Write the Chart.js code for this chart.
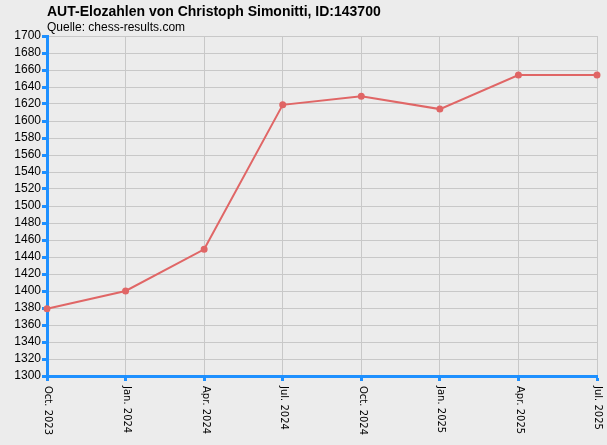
<!DOCTYPE html>
<html>
<head>
<meta charset="utf-8">
<script src="https://cdn.jsdelivr.net/npm/chart.js@4"></script>
<style>
  body { margin: 0; background: #ececec; }
  #wrap { width: 607px; height: 445px; }
</style>
</head>
<body>
<div id="wrap"><canvas id="eloChart"></canvas></div>
<script>
const labels = ['Oct. 2023', 'Jan. 2024', 'Apr. 2024', 'Jul. 2024', 'Oct. 2024', 'Jan. 2025', 'Apr. 2025', 'Jul. 2025'];
const elo = [1379, 1400, 1449, 1619, 1629, 1614, 1654, 1654];
const yMin = 1300, yMax = 1700, yStep = 20;

// title + vertical (top-to-bottom) x labels
const decor = {
    id: 'decor',
    afterDraw(chart) {
        const ctx = chart.ctx;
        const x = chart.scales.x;
        ctx.save();
        ctx.fillStyle = '#000';
        ctx.font = 'bold 14px "Liberation Sans", Arial, sans-serif';
        ctx.textBaseline = 'alphabetic';
        ctx.fillText('AUT-Elozahlen von Christoph Simonitti, ID:143700', 47, 16);
        ctx.font = '12px "Liberation Sans", Arial, sans-serif';
        ctx.fillText('Quelle: chess-results.com', 47, 31);
        ctx.font = '10px "DejaVu Sans", sans-serif';
        labels.forEach((l, i) => {
            const px = x.getPixelForValue(i);
            ctx.save();
            ctx.translate(px + 1, chart.chartArea.bottom + 10);
            ctx.rotate(Math.PI / 2);
            ctx.textAlign = 'left';
            ctx.textBaseline = 'middle';
            ctx.fillText(l, 0, 0);
            ctx.restore();
        });
        ctx.restore();
    }
};

new Chart(document.getElementById('eloChart'), {
    type: 'line',
    data: {
        labels: labels,
        datasets: [{
            data: elo,
            borderColor: '#e06666',
            backgroundColor: '#e06666',
            borderWidth: 2,
            pointRadius: 2.5,
            tension: 0
        }]
    },
    options: {
        responsive: true,
        maintainAspectRatio: false,
        animation: false,
        layout: { padding: { top: 36, right: 10, left: 0, bottom: 0 } },
        plugins: { legend: { display: false }, tooltip: { enabled: false } },
        scales: {
            x: {
                offset: false,
                afterFit(s) { s.height = 69; },
                ticks: { display: false },
                grid: { color: '#c8c8c8', tickColor: '#1e90ff', tickLength: 5, tickWidth: 3 },
                border: { color: '#1e90ff', width: 3 }
            },
            y: {
                min: yMin, max: yMax,
                afterFit(s) { s.width = 47; },
                ticks: {
                    stepSize: yStep, autoSkip: false, color: '#000', padding: 1,
                    callback: v => String(v),
                    font: { size: 12, family: '"Liberation Sans", Arial, sans-serif' }
                },
                grid: { color: '#c8c8c8', tickColor: '#1e90ff', tickLength: 5, tickWidth: 3 },
                border: { color: '#1e90ff', width: 3 }
            }
        }
    },
    plugins: [decor]
});
</script>
</body>
</html>
